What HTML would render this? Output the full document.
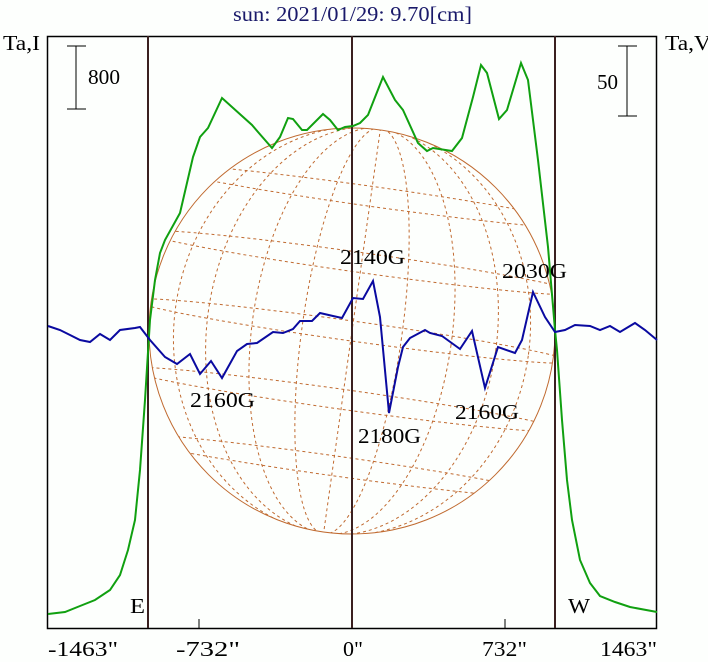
<!DOCTYPE html>
<html><head><meta charset="utf-8"><style>
body{margin:0;background:#fff;}
svg text{font-family:"Liberation Serif",serif;}
</style></head><body>
<svg width="708" height="662" viewBox="0 0 708 662" xmlns="http://www.w3.org/2000/svg">
<rect width="708" height="662" fill="#fdfffd"/>
<text x="233" y="21" font-size="21" fill="#1a1a6a" textLength="239" lengthAdjust="spacingAndGlyphs">sun: 2021/01/29: 9.70[cm]</text>
<text x="3" y="50" font-size="21" fill="#000" textLength="37" lengthAdjust="spacingAndGlyphs">Ta,I</text>
<text x="665" y="50" font-size="21" fill="#000" textLength="46" lengthAdjust="spacingAndGlyphs">Ta,V</text>
<defs><clipPath id="c"><circle cx="352" cy="331" r="203"/></clipPath></defs>
<g clip-path="url(#c)" fill="none" stroke="#c06a30" stroke-width="1" stroke-dasharray="3,3">
<g transform="rotate(8 352 331)">
<ellipse cx="352" cy="331" rx="50" ry="205"/>
<ellipse cx="352" cy="331" rx="100" ry="205"/>
<ellipse cx="352" cy="331" rx="145" ry="205"/>
<ellipse cx="352" cy="331" rx="178" ry="205"/>
<line x1="352" y1="120" x2="352" y2="540"/>
<ellipse cx="352" cy="195" rx="220" ry="10"/>
<ellipse cx="352" cy="262" rx="220" ry="10"/>
<ellipse cx="352" cy="331" rx="220" ry="10"/>
<ellipse cx="352" cy="400" rx="220" ry="10"/>
<ellipse cx="352" cy="467" rx="220" ry="10"/>
</g></g>
<circle cx="352" cy="331" r="203" fill="none" stroke="#c06a30" stroke-width="1"/>
<rect x="47.5" y="36.5" width="609" height="592" fill="none" stroke="#000" stroke-width="1.5"/>
<g stroke="#3a2020" stroke-width="2">
<line x1="148" y1="36" x2="148" y2="628"/>
<line x1="352" y1="36" x2="352" y2="628"/>
<line x1="555" y1="36" x2="555" y2="628"/>
</g>
<g stroke="#000" stroke-width="1">
<line x1="199" y1="619" x2="199" y2="628"/>
<line x1="505" y1="619" x2="505" y2="628"/>
<line x1="76" y1="46" x2="76" y2="109"/><line x1="67" y1="46" x2="86" y2="46"/><line x1="67" y1="109" x2="86" y2="109"/>
<line x1="627" y1="46" x2="627" y2="116"/><line x1="618" y1="46" x2="637" y2="46"/><line x1="618" y1="116" x2="637" y2="116"/>
</g>
<text x="88" y="84" font-size="21" textLength="32" lengthAdjust="spacingAndGlyphs">800</text>
<text x="597" y="89" font-size="21" textLength="21" lengthAdjust="spacingAndGlyphs">50</text>
<polyline fill="none" stroke="#10a010" stroke-width="2" points="48,614 65,612 80,606 95,600 110,590 120,575 128,550 135,520 140,470 145,400 150,320 155,280 160,253 165,240 180,213 193,157 200,137 208,128 222,98 252,125 258,132 272,148 280,137 288,118 293,119 302,130 307,130 323,114 330,120 338,130 345,127 353,126 360,123 368,115 383,77 395,100 403,110 418,143 427,151 433,148 452,151 462,138 473,97 481,65 487,73 499,119 507,110 521,63 528,80 538,160 548,247 555,330 557,350 562,420 567,480 572,520 580,560 590,583 600,596 615,602 630,607 657,612"/>
<polyline fill="none" stroke="#0a0aa0" stroke-width="2" points="48,326 60,330 70,335 80,340 90,342 100,334 110,340 120,330 135,328 140,327 150,340 165,357 177,364 190,354 200,374 211,361 222,378 237,351 247,344 257,343 273,332 283,333 293,329 300,321 312,321 320,313 333,316 342,318 353,298 363,299 373,281 380,317 389,413 398,367 403,347 410,338 425,330 430,333 442,336 460,349 472,331 485,388 498,347 515,353 522,340 533,292 545,317 555,332 565,330 575,325 590,326 600,330 610,326 620,332 635,323 645,330 657,340"/>
<g font-size="21" fill="#000" lengthAdjust="spacingAndGlyphs">
<text x="340" y="264" textLength="65" lengthAdjust="spacingAndGlyphs">2140G</text>
<text x="502" y="278" textLength="65" lengthAdjust="spacingAndGlyphs">2030G</text>
<text x="190" y="407" textLength="65" lengthAdjust="spacingAndGlyphs">2160G</text>
<text x="455" y="419" textLength="64" lengthAdjust="spacingAndGlyphs">2160G</text>
<text x="358" y="443" textLength="63" lengthAdjust="spacingAndGlyphs">2180G</text>
<text x="130" y="613" textLength="15" lengthAdjust="spacingAndGlyphs">E</text>
<text x="568" y="613" textLength="22" lengthAdjust="spacingAndGlyphs">W</text>
<text x="48" y="656" textLength="70" lengthAdjust="spacingAndGlyphs">-1463"</text>
<text x="176" y="656" textLength="64" lengthAdjust="spacingAndGlyphs">-732"</text>
<text x="343" y="656" textLength="20" lengthAdjust="spacingAndGlyphs">0"</text>
<text x="482" y="656" textLength="45" lengthAdjust="spacingAndGlyphs">732"</text>
<text x="600" y="656" textLength="57" lengthAdjust="spacingAndGlyphs">1463"</text>
</g>
</svg>
</body></html>
